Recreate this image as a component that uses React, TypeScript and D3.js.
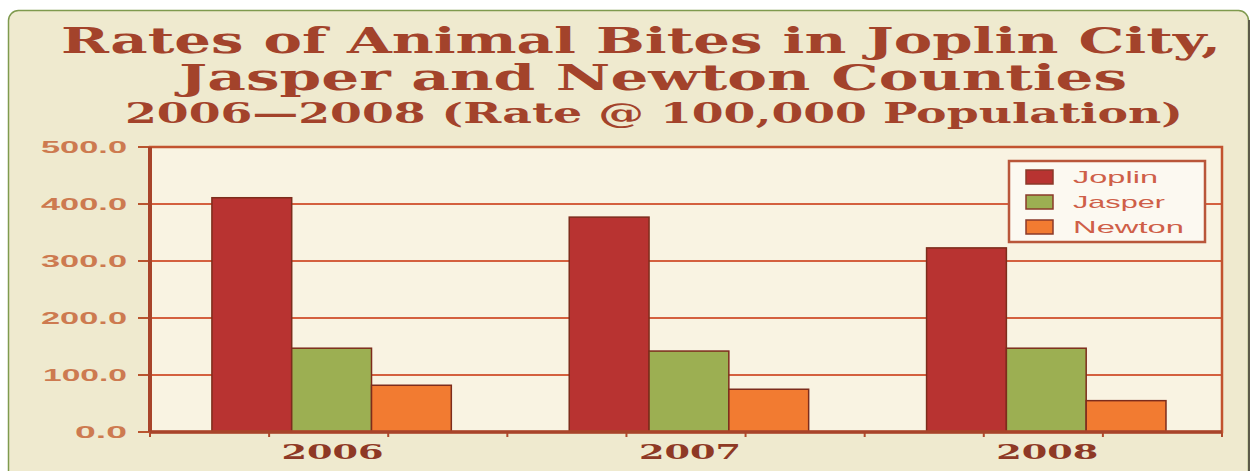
import React from "react";
import * as d3 from "d3";

const years = ["2006", "2007", "2008"];
const seriesNames = ["Joplin", "Jasper", "Newton"];
const joplin = [411, 377, 323];
const jasper = [147, 142, 147];
const newton = [82, 75, 55];
const yTicks = [0, 100, 200, 300, 400, 500];
const titleLines = [
  "Rates of Animal Bites in Joplin City,",
  "Jasper and Newton Counties",
  "2006\u20142008 (Rate @ 100,000 Population)",
];

const W = 1254;
const H = 471;
const plot = { left: 150, right: 1222, top: 147, bottom: 432 };
const colors = ["#b83331", "#9caf52", "#f27b31"];

export default function App() {
  const values = [joplin, jasper, newton];
  const x0 = d3
    .scaleBand<string>()
    .domain(years)
    .range([plot.left, plot.right])
    .paddingInner(0.33)
    .paddingOuter(0.165)
    .align(0.525);
  const x1 = d3
    .scaleBand<string>()
    .domain(seriesNames)
    .range([0, x0.bandwidth()])
    .padding(0);
  const y = d3.scaleLinear().domain([0, 500]).range([plot.bottom, plot.top]);
  const minor = d3.range(10).map((i) => plot.left + ((plot.right - plot.left) * i) / 9);

  const titleSpecs = [
    { y: 53, size: 35, len: 1160, cx: 641 },
    { y: 90, size: 35, len: 948, cx: 653 },
    { y: 123, size: 28, len: 1058, cx: 654 },
  ];
  const legendX = 1009;
  const legendY = 161;
  const legendTextLens = [85, 92, 111];

  return (
    <svg
      width={W}
      height={H}
      style={{ position: "absolute", left: 0, top: 0, display: "block" }}
    >
      <rect x={0} y={0} width={W} height={H} fill="#ffffff" />
      <rect
        x={8.5}
        y={10.5}
        width={1240}
        height={480}
        rx={10}
        fill="#efeacf"
        stroke="#7f9a4e"
        strokeWidth={1.5}
      />
      <line x1={1249} y1={20} x2={1249} y2={471} stroke="#5c5a4a" strokeWidth={2} />
      {titleLines.map((t, i) => (
        <text
          key={i}
          x={titleSpecs[i].cx}
          y={titleSpecs[i].y}
          textAnchor="middle"
          fontFamily="'DejaVu Serif', serif"
          fontWeight="bold"
          fontSize={titleSpecs[i].size}
          fill="#a3432b"
          textLength={titleSpecs[i].len}
          lengthAdjust="spacingAndGlyphs"
        >
          {t}
        </text>
      ))}
      <rect
        x={plot.left}
        y={plot.top}
        width={plot.right - plot.left}
        height={plot.bottom - plot.top}
        fill="#f9f3e2"
      />
      {yTicks.map((t) => (
        <g key={t}>
          {t > 0 && t < 500 && (
            <line
              x1={plot.left}
              x2={plot.right}
              y1={y(t)}
              y2={y(t)}
              stroke="#d4603f"
              strokeWidth={2}
            />
          )}
          <line x1={plot.left - 12} x2={plot.left} y1={y(t)} y2={y(t)} stroke="#b9552f" strokeWidth={2} />
          <text
            x={127}
            y={y(t) + 6}
            textAnchor="end"
            fontFamily="'Liberation Sans', Arial, sans-serif"
            fontWeight="bold"
            fontSize={17}
            fill="#cd7a50"
            textLength={t === 100 ? 84 : t === 0 ? 52 : 86}
            lengthAdjust="spacingAndGlyphs"
          >
            {t.toFixed(1)}
          </text>
        </g>
      ))}
      {years.map((yr, gi) => (
        <g key={yr} transform={`translate(${x0(yr)},0)`}>
          {seriesNames.map((s, si) => (
            <rect
              key={s}
              x={x1(s)}
              y={y(values[si][gi])}
              width={x1.bandwidth()}
              height={y(0) - y(values[si][gi])}
              fill={colors[si]}
              stroke="#7d2c1c"
              strokeWidth={1.5}
            />
          ))}
        </g>
      ))}
      {minor.map((mx, i) => (
        <line key={i} x1={mx} x2={mx} y1={plot.bottom} y2={plot.bottom + 5} stroke="#b04a2c" strokeWidth={2} />
      ))}
      <rect
        x={plot.left}
        y={plot.top}
        width={plot.right - plot.left}
        height={plot.bottom - plot.top}
        fill="none"
        stroke="#c2532f"
        strokeWidth={2.5}
      />
      <line x1={plot.left} x2={plot.left} y1={plot.top} y2={plot.bottom} stroke="#a8442a" strokeWidth={4} />
      <line x1={plot.left} x2={plot.right} y1={plot.bottom} y2={plot.bottom} stroke="#a8442a" strokeWidth={3.5} />
      {years.map((yr) => (
        <text
          key={yr}
          x={(x0(yr) as number) + x0.bandwidth() / 2 + 1}
          y={459}
          textAnchor="middle"
          fontFamily="'DejaVu Serif', serif"
          fontWeight="bold"
          fontSize={21}
          fill="#8e3925"
          textLength={102}
          lengthAdjust="spacingAndGlyphs"
        >
          {yr}
        </text>
      ))}
      <rect
        x={legendX}
        y={legendY}
        width={196}
        height={81}
        fill="#fcf9f1"
        stroke="#b9563a"
        strokeWidth={2.5}
      />
      {seriesNames.map((s, i) => (
        <g key={s} transform={`translate(0,${legendY + 16 + i * 25})`}>
          <rect x={1026} y={-7} width={27} height={14} fill={colors[i]} stroke="#8a3a2a" strokeWidth={1.5} />
          <text
            x={1073}
            y={6}
            fontFamily="'Liberation Sans', Arial, sans-serif"
            fontSize={17}
            fill="#cf5f48"
            textLength={legendTextLens[i]}
            lengthAdjust="spacingAndGlyphs"
          >
            {s}
          </text>
        </g>
      ))}
    </svg>
  );
}
